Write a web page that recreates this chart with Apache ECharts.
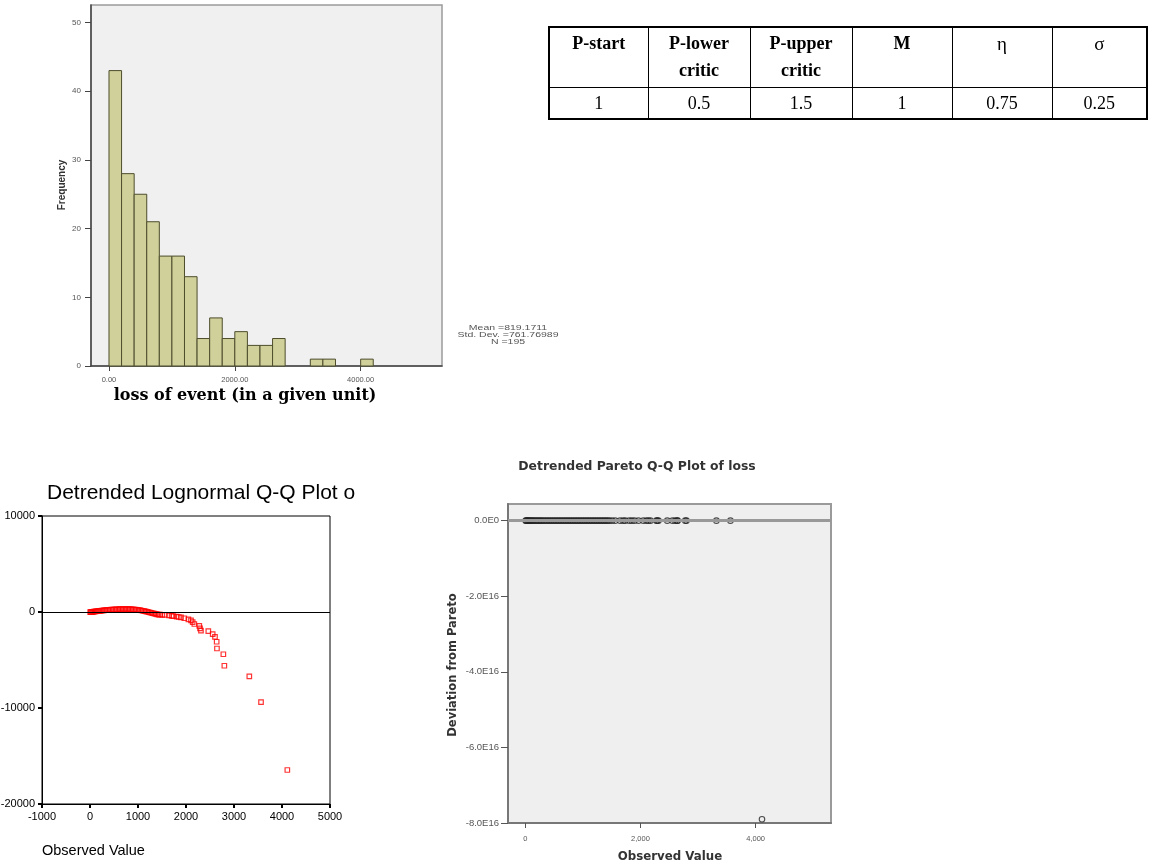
<!DOCTYPE html>
<html><head><meta charset="utf-8">
<script src="https://cdn.jsdelivr.net/npm/echarts@6/dist/echarts.min.js"></script>
<style>
html,body{margin:0;padding:0;background:#fff;}
#wrap{position:relative;width:1150px;height:865px;overflow:hidden;}
#chart{position:absolute;left:0;top:0;width:1150px;height:865px;}
#tbl{position:absolute;left:548px;top:26px;border-collapse:collapse;table-layout:fixed;font-family:'Liberation Serif','DejaVu Serif',serif;font-size:18px;color:#000;border:2px solid #000;}
#tbl td{border:1px solid #000;text-align:center;padding:0;}
#tbl tr.h td{height:57px;vertical-align:top;font-weight:bold;line-height:27px;padding-top:2px;}
#tbl tr.h td.g{font-weight:normal;font-size:19px;}
#tbl tr.d td{height:30px;vertical-align:middle;}
</style></head>
<body><div id="wrap"><div id="chart"></div><table id="tbl"></table></div>
<script>
// ---------- data ----------
const histBinStart = [0,200,400,600,800,1000,1200,1400,1600,1800,2000,2200,2400,2600,2800,3000,3200,3400,3600,3800,4000];
const histBinWidth = 200;
const histCounts   = [43,28,25,21,16,16,13,4,7,4,5,3,3,4,0,0,1,1,0,0,1];
const histYTicks = [0,10,20,30,40,50];
const histXTicks = [0,2000,4000];
const statsLines = ['Mean =819.1711','Std. Dev. =761.76989','N =195'];

const observed = [
  5,15,30,45,60,80,100,120,140,165,
  190,215,240,265,290,320,350,380,410,440,
  470,500,530,560,590,620,650,680,710,740,
  770,800,830,860,890,920,950,980,1010,1040,
  1070,1100,1130,1160,1190,1220,1250,1280,1310,1340,
  1370,1400,1430,1460,1507,1560,1646,1700,1736,1806,
  1850,1896,1965,2050,2104,2139,2174,2277,2292,2312,
  2465,2556,2604,2639,2645,2778,2799,3319,3563,4111
];
const lognormalDev = [
  -20,-10,0,10,20,35,50,65,80,95,
  110,125,140,155,170,185,200,215,228,240,
  250,260,270,278,285,292,298,300,302,302,
  300,296,290,282,272,260,245,228,208,185,
  158,128,95,60,25,-10,-50,-90,-130,-170,
  -205,-240,-265,-280,-290,-300,-350,-400,-440,-480,
  -520,-560,-650,-760,-880,-1050,-1250,-1450,-1700,-1930,
  -2000,-2300,-2600,-3100,-3800,-4400,-5600,-6700,-9380,-16460
];
const paretoDev = [
  0,0,0,0,0,0,0,0,0,0,
  0,0,0,0,0,0,0,0,0,0,
  0,0,0,0,0,0,0,0,0,0,
  0,0,0,0,0,0,0,0,0,0,
  0,0,0,0,0,0,0,0,0,0,
  0,0,0,0,0,0,0,0,0,0,
  0,0,0,0,0,0,0,0,0,0,
  0,0,0,0,0,0,0,0,0,-7.9e16
];
const paretoYTicks = [0,-2e16,-4e16,-6e16,-8e16];
const paretoXTicks = [0,2000,4000];

const tableHeader = [['P-start'],['P-lower','critic'],['P-upper','critic'],['M'],['η'],['σ']];
const tableValues = ['1','0.5','1.5','1','0.75','0.25'];
const tableColWidths = [99,102,102,100,100,95];

// ---------- table ----------
const tbl = document.getElementById('tbl');
let html = '<colgroup>' + tableColWidths.map(w => '<col style="width:' + w + 'px">').join('') + '</colgroup>';
html += '<tr class="h">' + tableHeader.map(h => '<td' + ((h[0]==='η'||h[0]==='σ') ? ' class="g"' : '') + '>' + h.join('<br>') + '</td>').join('') + '</tr>';
html += '<tr class="d">' + tableValues.map(v => '<td>' + v + '</td>').join('') + '</tr>';
tbl.innerHTML = html;

// ---------- chart ----------
const histData = histBinStart.map((s,i) => [s, s + histBinWidth, histCounts[i]]).filter(d => d[2] > 0);
const lnData = observed.map((x,i) => [x, lognormalDev[i]]);
const parData = observed.map((x,i) => [x, paretoDev[i]]);
const SANS = '"Liberation Sans", Arial, sans-serif';
const DSANS = '"DejaVu Sans", sans-serif';

const chart = echarts.init(document.getElementById('chart'), null, {renderer:'canvas'});
chart.setOption({
  animation: false,
  grid: [
    {left:91, top:5, width:351, height:361, show:true, backgroundColor:'#f0f0f0', borderColor:'#9a9a9a', borderWidth:1.5, outerBoundsMode:'none', containLabel:false},
    {left:42, top:516, width:288, height:288, show:true, backgroundColor:'#fff', borderColor:'#000', borderWidth:1, outerBoundsMode:'none', containLabel:false},
    {left:508, top:504, width:323, height:319, show:true, backgroundColor:'#efefef', borderColor:'#9a9a9a', borderWidth:2, outerBoundsMode:'none', containLabel:false}
  ],
  xAxis: [
    {gridIndex:0, type:'value', min:-286, max:5293, splitLine:{show:false},
     axisLine:{show:true, onZero:false, lineStyle:{color:'#444', width:1.5}},
     axisTick:{show:true, customValues:histXTicks, length:5, lineStyle:{color:'#444'}},
     axisLabel:{customValues:histXTicks, formatter:v => v.toFixed(2), fontSize:7.5, color:'#555', margin:10, fontFamily:SANS}},
    {gridIndex:1, type:'value', min:-1000, max:5000, interval:1000, splitLine:{show:false},
     axisLine:{show:true, onZero:false, lineStyle:{color:'#000', width:1}},
     axisTick:{show:true, length:4, lineStyle:{color:'#000', width:2}},
     axisLabel:{formatter:v => String(v), fontSize:11, color:'#000', margin:7, fontFamily:SANS}},
    {gridIndex:2, type:'value', min:-302, max:5310, splitLine:{show:false},
     axisLine:{show:true, onZero:false, lineStyle:{color:'#777', width:2}},
     axisTick:{show:true, customValues:paretoXTicks, length:5, lineStyle:{color:'#555'}},
     axisLabel:{customValues:paretoXTicks, formatter:v => v.toLocaleString('en-US'), fontSize:7.5, color:'#555', margin:12, fontFamily:SANS}}
  ],
  yAxis: [
    {gridIndex:0, type:'value', min:0, max:52.55, splitLine:{show:false},
     axisLine:{show:true, onZero:false, lineStyle:{color:'#444', width:1.5}},
     axisTick:{show:true, customValues:histYTicks, length:6, lineStyle:{color:'#444'}},
     axisLabel:{customValues:histYTicks, fontSize:8, color:'#555', margin:10, fontFamily:SANS}},
    {gridIndex:1, type:'value', min:-20000, max:10000, interval:10000, splitLine:{show:false},
     axisLine:{show:true, onZero:false, lineStyle:{color:'#000', width:1}},
     axisTick:{show:true, length:4, lineStyle:{color:'#000', width:2}},
     axisLabel:{formatter:v => String(v), fontSize:11, color:'#000', margin:7, fontFamily:SANS}},
    {gridIndex:2, type:'value', min:-8e16, max:0.44e16, splitLine:{show:false},
     axisLine:{show:true, onZero:false, lineStyle:{color:'#777', width:2}},
     axisTick:{show:true, customValues:paretoYTicks, length:7, lineStyle:{color:'#555'}},
     axisLabel:{customValues:paretoYTicks, formatter:v => v === 0 ? '0.0E0' : (v/1e16).toFixed(1) + 'E16', fontSize:9.5, color:'#555', margin:9, fontFamily:SANS}}
  ],
  series: [
    {type:'custom', xAxisIndex:0, yAxisIndex:0, data:histData, encode:{x:[0,1], y:2},
     renderItem: function(params, api){
       const p0 = api.coord([api.value(0), api.value(2)]);
       const p1 = api.coord([api.value(1), 0]);
       return {type:'rect', shape:{x:p0[0], y:p0[1], width:p1[0]-p0[0], height:p1[1]-p0[1]},
               style:{fill:'#d0d09b', stroke:'#4d4d2c', lineWidth:1}};
     }},
    {type:'scatter', xAxisIndex:1, yAxisIndex:1, data:lnData, symbol:'rect', symbolSize:4.5,
     itemStyle:{color:'rgba(255,255,255,0)', borderColor:'#ff0000', borderWidth:1.2},
     markLine:{silent:true, symbol:'none', label:{show:false}, data:[{yAxis:0}], lineStyle:{color:'#000', width:1.2, type:'solid'}},
     z:3},
    {type:'scatter', xAxisIndex:2, yAxisIndex:2, data:parData, symbol:'circle', symbolSize:5.5,
     itemStyle:{color:'rgba(255,255,255,0)', borderColor:'#222', borderWidth:1.1},
     markLine:{silent:true, symbol:'none', label:{show:false}, data:[{yAxis:0}], lineStyle:{color:'#999', width:3, type:'solid'}},
     z:3}
  ],
  graphic: [
    {type:'text', x:62, y:185, rotation:Math.PI/2, style:{text:'Frequency', align:'center', verticalAlign:'middle', font:'bold 10px ' + SANS, fill:'#333'}},
    {type:'text', x:245, y:396, style:{text:'loss of event (in a given unit)', align:'center', verticalAlign:'middle', font:'bold 16px "DejaVu Serif", serif', fill:'#000'}},
    {type:'text', x:508, y:335, scaleX:1.4, style:{text:statsLines.join('\n'), align:'center', verticalAlign:'middle', font:'7.5px ' + SANS, lineHeight:7.3, fill:'#555'}},
    {type:'text', x:47, y:493, style:{text:'Detrended Lognormal Q-Q Plot of loss', align:'left', verticalAlign:'middle', font:'21px ' + SANS, fill:'#000', width:312, overflow:'truncate', ellipsis:''}},
    {type:'text', x:42, y:851, style:{text:'Observed Value', align:'left', verticalAlign:'middle', font:'14.5px ' + SANS, fill:'#000'}},
    {type:'text', x:637, y:467, style:{text:'Detrended Pareto Q-Q Plot of loss', align:'center', verticalAlign:'middle', font:'bold 12.4px ' + DSANS, fill:'#333'}},
    {type:'text', x:453, y:665, rotation:Math.PI/2, style:{text:'Deviation from Pareto', align:'center', verticalAlign:'middle', font:'bold 11.5px ' + DSANS, fill:'#333'}},
    {type:'text', x:670, y:857, style:{text:'Observed Value', align:'center', verticalAlign:'middle', font:'bold 11.8px ' + DSANS, fill:'#333'}}
  ]
});
</script></body></html>
